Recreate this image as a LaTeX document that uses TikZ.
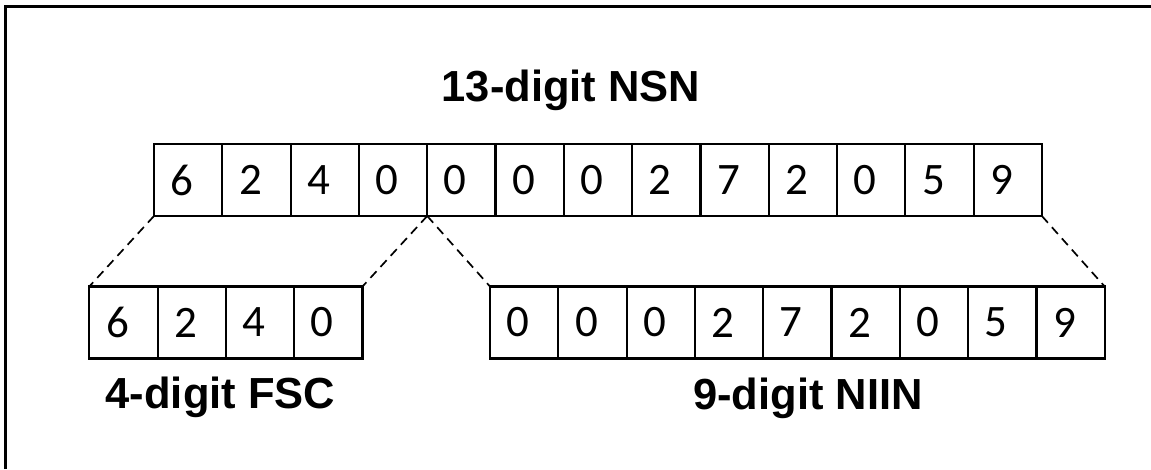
\documentclass[tikz,border=0pt]{standalone}
\usepackage{fontspec}
\setmainfont{Liberation Sans}
\newfontfamily\digitfont{Carlito}
\newcommand{\celldigit}[1]{\hspace*{-12pt}\raisebox{-2pt}{#1}}
\begin{document}
\begin{tikzpicture}[x=1pt,y=-1pt,
  cell/.style={draw, line width=2.2pt, minimum width=68.3pt, minimum height=72pt,
    inner sep=0pt, outer sep=0pt, font=\digitfont\fontsize{45}{45}\selectfont},
  caption/.style={anchor=base, inner sep=0pt, font=\bfseries\fontsize{43.5}{44}\selectfont},
  guide/.style={dashed, line width=1.7pt, dash pattern=on 9pt off 6pt}]
\useasboundingbox (0,0) rectangle (1151,469);
% partial frame along the top and left
\draw[line width=3pt] (5.5,469) -- (5.5,6) -- (1151,6);

% full 13-digit number
\foreach \d [count=\i] in {6,2,4,0,0,0,0,2,7,2,0,5,9}
  \node[cell] (t\i) at ({154+68.3*(\i-0.5)},180) {\celldigit{\d}};
% 4-digit class code
\foreach \d [count=\i] in {6,2,4,0}
  \node[cell] (f\i) at ({89.3+68.3*(\i-0.5)},322.5) {\celldigit{\d}};
% 9-digit item number
\foreach \d [count=\i] in {0,0,0,2,7,2,0,5,9}
  \node[cell] (n\i) at ({490+68.3*(\i-0.5)},322.5) {\celldigit{\d}};

% captions
\node[caption] (nsn) at (571,101.7) {13-digit NSN};
\node[caption] (fsc) at (220.5,408.5) {4-digit FSC};
\node[caption] (niin) at (808,409.5) {9-digit NIIN};

% expansion guides
\draw[guide] (t1.south west) -- (f1.north west);
\draw[guide] (t4.south east) -- (f4.north east);
\draw[guide] (t5.south west) -- (n1.north west);
\draw[guide] (t13.south east) -- (n9.north east);
\end{tikzpicture}
\end{document}
